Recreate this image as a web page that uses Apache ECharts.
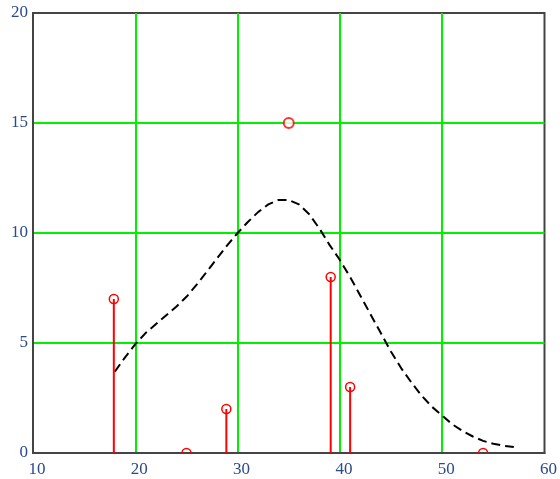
<!DOCTYPE html>
<html>
<head>
<meta charset="utf-8">
<script src="https://cdn.jsdelivr.net/npm/echarts@6/dist/echarts.min.js"></script>
<style>html,body{margin:0;padding:0;background:#fff}#c{width:560px;height:479px}</style>
</head>
<body>
<div id="c"></div>
<script>
// Data
const stemX = [17.9, 25, 28.9, 39.1, 41, 54];
const stemY = [7, 0, 2, 8, 3, 0];
const outlierX = [35];
const outlierY = [15];
const curveX = [18,19,20,21,22,23,24,25,26,27,28,29,30,31,32,33,34,35,36,37,38,39,40,41,42,43,44,45,46,47,48,49,50,51,52,53,54,55,56,57];
const curveY = [3.7,4.35,4.95,5.45,5.85,6.25,6.65,7.1,7.65,8.25,8.85,9.45,10.0,10.5,10.95,11.3,11.5,11.5,11.3,10.85,10.2,9.45,8.77,8.0,7.15,6.3,5.45,4.6,3.85,3.2,2.6,2.1,1.7,1.3,1.0,0.75,0.55,0.42,0.33,0.27];
const xTicks = [10, 20, 30, 40, 50, 60];
const yTicks = [0, 5, 10, 15, 20];

const chart = echarts.init(document.getElementById('c'), null, {renderer: 'canvas'});
const labelFont = {fontFamily: 'Liberation Serif', fontSize: 17, color: '#2b4a8a'};
chart.setOption({
  animation: false,
  grid: {left: 33, top: 13, right: 12, bottom: 26, show: true, borderColor: '#444', borderWidth: 2, backgroundColor: '#fff'},
  xAxis: {
    type: 'value', min: xTicks[0], max: xTicks[xTicks.length-1], interval: 10,
    axisLine: {show: true, onZero: false, lineStyle: {color: '#444', width: 2}},
    axisTick: {show: false},
    axisLabel: Object.assign({margin: 8, padding: [0,0,0,8], showMaxLabel: true, showMinLabel: true}, labelFont),
    splitLine: {show: true, showMinLine: false, showMaxLine: false, lineStyle: {color: '#00f000', width: 2}}
  },
  yAxis: {
    type: 'value', min: yTicks[0], max: yTicks[yTicks.length-1], interval: 5,
    axisLine: {show: true, onZero: false, lineStyle: {color: '#444', width: 2}},
    axisTick: {show: false},
    axisLabel: Object.assign({margin: 5, padding: [6,0,0,0], showMaxLabel: true, showMinLabel: true}, labelFont),
    splitLine: {show: true, showMinLine: false, showMaxLine: false, lineStyle: {color: '#00f000', width: 2}}
  },
  series: [
    {
      type: 'line',
      data: curveX.map((x, i) => [x, curveY[i]]),
      smooth: false,
      showSymbol: false,
      lineStyle: {color: '#000', width: 2, type: [9, 5]},
      z: 3
    },
    {
      type: 'custom',
      clip: true,
      data: stemX.map((x, i) => [x, stemY[i]]),
      renderItem: function (params, api) {
        const p0 = api.coord([api.value(0), 0]);
        const p1 = api.coord([api.value(0), api.value(1)]);
        return {
          type: 'group',
          children: [
            {type: 'line', shape: {x1: p0[0], y1: p0[1], x2: p1[0], y2: p1[1]}, style: {stroke: '#ff0000', lineWidth: 2}},
            {type: 'circle', shape: {cx: p1[0], cy: p1[1], r: 4.5}, style: {stroke: '#ff0000', fill: null, lineWidth: 1.5}}
          ]
        };
      },
      z: 4
    },
    {
      type: 'scatter',
      data: outlierX.map((x, i) => [x, outlierY[i]]),
      symbol: 'emptyCircle',
      symbolSize: 10,
      itemStyle: {color: '#ff0000', borderWidth: 1.5},
      z: 4
    }
  ]
});
</script>
</body>
</html>
